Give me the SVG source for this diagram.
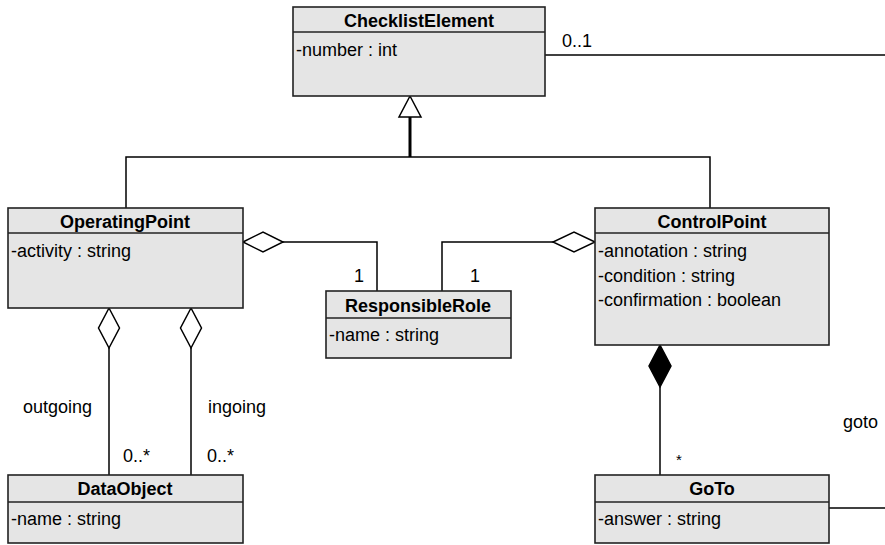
<svg xmlns="http://www.w3.org/2000/svg" width="885" height="545" viewBox="0 0 885 545">
<style>
.box{fill:#e5e5e5;stroke:#222;stroke-width:1.6}
.sep{stroke:#222;stroke-width:1.4}
.t{font-family:"Liberation Sans",Arial,sans-serif;font-size:18px;font-weight:bold;text-anchor:middle;fill:#000}
.a{font-family:"Liberation Sans",Arial,sans-serif;font-size:18px;fill:#000}
.l{font-family:"Liberation Sans",Arial,sans-serif;font-size:18px;fill:#000}
.ln{fill:none;stroke:#000;stroke-width:1.5}
.od{fill:#fff;stroke:#000;stroke-width:1.5}
.fd{fill:#000;stroke:#000;stroke-width:1.5}
</style>
<rect width="885" height="545" fill="#fff"/>
<g id="connectors">
<path class="ln" d="M126,208 V157 H710 V208"/>
<path class="ln" d="M410,157 V117" style="stroke-width:3"/>
<polygon class="od" points="410,96 399,117 421,117"/>
<path class="ln" d="M545,55 H885"/>
<path class="ln" d="M283,242 H377 V291"/>
<polygon class="od" points="243,242 263,232 283,242 263,252"/>
<path class="ln" d="M553,242 H442 V291"/>
<polygon class="od" points="595,242 574,232 553,242 574,252"/>
<path class="ln" d="M109,348 V475"/>
<polygon class="od" points="109,308 119.5,328 109,348 98.5,328"/>
<path class="ln" d="M191,348 V475"/>
<polygon class="od" points="191,308 201.5,328 191,348 180.5,328"/>
<path class="ln" d="M660,387 V475"/>
<polygon class="fd" points="660,345 671,366 660,387 649,366"/>
<path class="ln" d="M829,508 H885"/>
<text class="l" x="562" y="47">0..1</text>
<text class="l" x="354" y="282">1</text>
<text class="l" x="470" y="282">1</text>
<text class="l" x="23" y="413">outgoing</text>
<text class="l" x="208" y="413">ingoing</text>
<text class="l" x="123" y="462">0..*</text>
<text class="l" x="207" y="462">0..*</text>
<text class="l" x="676" y="465" style="font-size:15px">*</text>
<text class="l" x="843" y="428">goto</text>
</g>
<g id="ChecklistElement">
<rect class="box" x="293" y="7" width="252" height="89"/>
<line class="sep" x1="293" y1="32" x2="545" y2="32"/>
<text class="t" x="419" y="27">ChecklistElement</text>
<text class="a" x="296" y="56">-number : int</text>
</g>
<g id="OperatingPoint">
<rect class="box" x="8" y="208" width="235" height="100"/>
<line class="sep" x1="8" y1="233" x2="243" y2="233"/>
<text class="t" x="125" y="228">OperatingPoint</text>
<text class="a" x="11" y="257">-activity : string</text>
</g>
<g id="ControlPoint">
<rect class="box" x="595" y="208" width="234" height="137"/>
<line class="sep" x1="595" y1="233" x2="829" y2="233"/>
<text class="t" x="712" y="228">ControlPoint</text>
<text class="a" x="598" y="257">-annotation : string</text>
<text class="a" x="598" y="282">-condition : string</text>
<text class="a" x="598" y="306">-confirmation : boolean</text>
</g>
<g id="ResponsibleRole">
<rect class="box" x="326" y="291" width="185" height="67"/>
<line class="sep" x1="326" y1="318" x2="511" y2="318"/>
<text class="t" x="418" y="312">ResponsibleRole</text>
<text class="a" x="329" y="341">-name : string</text>
</g>
<g id="DataObject">
<rect class="box" x="8" y="475" width="235" height="68"/>
<line class="sep" x1="8" y1="502" x2="243" y2="502"/>
<text class="t" x="125" y="495">DataObject</text>
<text class="a" x="11" y="525">-name : string</text>
</g>
<g id="GoTo">
<rect class="box" x="595" y="475" width="234" height="68"/>
<line class="sep" x1="595" y1="502" x2="829" y2="502"/>
<text class="t" x="712" y="495">GoTo</text>
<text class="a" x="598" y="525">-answer : string</text>
</g>
</svg>
